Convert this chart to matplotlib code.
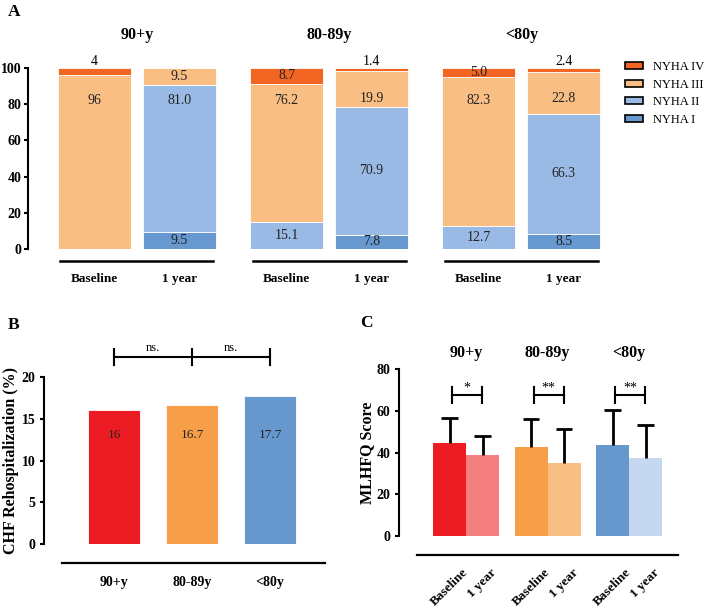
import matplotlib
matplotlib.use('Agg')
import matplotlib.pyplot as plt
from matplotlib.patches import Patch

plt.rcParams['font.family'] = 'serif'
plt.rcParams['font.serif'] = ['Liberation Serif', 'DejaVu Serif']

# ---- data ----
age_groups = ['90+y', '80-89y', '<80y']
timepoints = ['Baseline', '1 year']

# Panel A: NYHA class distribution (%), columns NYHA I, II, III, IV
nyha_classes = ['NYHA I', 'NYHA II', 'NYHA III', 'NYHA IV']
nyha_colors = ['#6798CF', '#99BAE4', '#F8BE83', '#F26522']
nyha_90 = [[0, 0, 96, 4], [9.5, 81.0, 9.5, 0]]
nyha_80_89 = [[0, 15.1, 76.2, 8.7], [7.8, 70.9, 19.9, 1.4]]
nyha_u80 = [[0, 12.7, 82.3, 5.0], [8.5, 66.3, 22.8, 2.4]]

# Panel B: CHF rehospitalization (%)
rehosp = [16, 16.7, 17.7]
rehosp_colors = ['#ED1C24', '#F69F48', '#6698CE']

# Panel C: MLHFQ score, mean and SD
mlhfq_base = [44.7, 42.8, 43.6]
mlhfq_base_sd = [11.8, 13.1, 16.8]
mlhfq_1y = [38.8, 34.8, 37.4]
mlhfq_1y_sd = [9.1, 16.3, 15.9]
mlhfq_stars = ['*', '**', '**']
base_colors = ['#ED1C24', '#F69F48', '#6698CE']
year_colors = ['#F47F7E', '#F8BE83', '#C6D8EF']


def fmt(v):
    return str(v) if isinstance(v, int) else f'{v:.1f}'


def bold_ticks(ax, axis, size):
    labels = ax.get_xticklabels() if axis == 'x' else ax.get_yticklabels()
    for lab in labels:
        lab.set_fontweight('bold')
        lab.set_fontsize(size)


W, H = 709, 612
fig = plt.figure(figsize=(W / 100, H / 100), dpi=100)

# ---------------- Panel A ----------------
axA = fig.add_axes([28 / W, 363 / H, 575 / W, 181 / H])
nyha_all = [nyha_90, nyha_80_89, nyha_u80]
gstep = 2.26
xpos = []
for i, grp in enumerate(nyha_all):
    for j in range(2):
        x = i * gstep + j
        xpos.append(x)
        bottom = 0
        for k in range(4):
            v = grp[j][k]
            if v == 0:
                continue
            axA.bar(x, v, 0.86, bottom=bottom, color=nyha_colors[k],
                    edgecolor='white', linewidth=0.6)
            center = bottom + v / 2
            if v <= 4:
                axA.text(x, 100, fmt(v), ha='center', va='bottom', fontsize=10)
            else:
                if v >= 75:
                    ty = 82
                elif v >= 15:
                    ty = min(center, 83)
                else:
                    ty = center
                axA.text(x, ty, fmt(v), ha='center', va='center', fontsize=10,
                         color='#222222')
            bottom += v
    gx = i * gstep
    axA.plot([gx - 0.4, gx + 1.4], [-6.6, -6.6], color='black', lw=1.8,
             clip_on=False)
    axA.text(gx + 0.5, 118, age_groups[i], ha='center', va='center',
             fontsize=11.5, fontweight='bold')

axA.set_xlim(-0.78, 5.98)
axA.set_ylim(0, 100)
for s in ['top', 'right', 'bottom']:
    axA.spines[s].set_visible(False)
axA.spines['left'].set_linewidth(1.5)
axA.set_yticks(range(0, 101, 20))
axA.set_xticks(xpos)
axA.set_xticklabels(timepoints * 3)
axA.tick_params(axis='x', length=0, pad=17)
axA.tick_params(axis='y', width=1.5, length=3, pad=1.5)
bold_ticks(axA, 'x', 9.5)
bold_ticks(axA, 'y', 10)

handles = [Patch(facecolor=nyha_colors[k], edgecolor='black', linewidth=1.2,
                 label=nyha_classes[k]) for k in range(3, -1, -1)]
fig.legend(handles=handles, loc='upper left', bbox_to_anchor=(625 / W, 1 - 61 / H),
           frameon=False, fontsize=9, handlelength=1.45, handleheight=0.5,
           handletextpad=0.8, labelspacing=0.45, borderpad=0, borderaxespad=0)

# ---------------- Panel B ----------------
axB = fig.add_axes([44 / W, 68 / H, 280.6 / W, 167 / H])
for s in ['top', 'right']:
    axB.spines[s].set_visible(False)
axB.spines['bottom'].set_position(('outward', 14))
axB.spines['bottom'].set_bounds(-0.667, 2.7)
axB.spines['bottom'].set_linewidth(1.6)
axB.spines['left'].set_linewidth(1.5)
bx = list(range(len(rehosp)))
axB.bar(bx, rehosp, 0.667, color=rehosp_colors, edgecolor='white', linewidth=0.6)
for x, v in zip(bx, rehosp):
    axB.text(x, 13, fmt(v), ha='center', va='center', fontsize=9.5,
             color='#222222')
axB.set_xlim(-0.897, 2.7)
axB.set_ylim(0, 20)
axB.set_yticks(range(0, 21, 5))
axB.set_xticks(bx)
axB.set_xticklabels(age_groups)
axB.tick_params(axis='x', length=0, pad=9)
axB.tick_params(axis='y', width=1.5, length=3, pad=3)
bold_ticks(axB, 'x', 10)
bold_ticks(axB, 'y', 10)
axB.set_ylabel('CHF Rehospitalization (%)', fontsize=11.5, fontweight='bold')
axB.yaxis.set_label_coords(-0.09, 0.5)
# ns brackets
axB.plot([0, 2], [22.4, 22.4], color='black', lw=1.5, clip_on=False)
for x in bx:
    axB.plot([x, x], [21.4, 23.3], color='black', lw=1.5, clip_on=False)
for x in [0.5, 1.5]:
    axB.text(x, 22.7, 'ns.', ha='center', va='bottom', fontsize=9)

# ---------------- Panel C ----------------
axC = fig.add_axes([399 / W, 76 / H, 279 / W, 167 / H])
for s in ['top', 'right']:
    axC.spines[s].set_visible(False)
axC.spines['bottom'].set_position(('outward', 14))
axC.spines['bottom'].set_bounds(-0.601, 2.6)
axC.spines['bottom'].set_linewidth(1.6)
axC.spines['left'].set_linewidth(1.5)
w = 0.405
gx = list(range(len(mlhfq_base)))
xb = [g - w / 2 for g in gx]
xy = [g + w / 2 for g in gx]
axC.bar(xb, mlhfq_base, w, color=base_colors)
axC.bar(xy, mlhfq_1y, w, color=year_colors)
# upward-only error bars with top cap
cap = 0.1
for xs, m, sd in [(xb, mlhfq_base, mlhfq_base_sd), (xy, mlhfq_1y, mlhfq_1y_sd)]:
    tops = [a + b for a, b in zip(m, sd)]
    axC.vlines(xs, m, tops, color='black', lw=2)
    axC.hlines(tops, [x - cap for x in xs], [x + cap for x in xs],
               color='black', lw=2)
for g, st, name in zip(gx, mlhfq_stars, age_groups):
    x0, x1 = g - 0.17, g + 0.2
    axC.plot([x0, x1], [67.5, 67.5], color='black', lw=1.5)
    axC.plot([x0, x0], [63.7, 71.4], color='black', lw=1.5)
    axC.plot([x1, x1], [63.7, 71.4], color='black', lw=1.5)
    axC.text((x0 + x1) / 2, 67.8, st, ha='center', va='bottom', fontsize=10)
    axC.text(g, 87.7, name, ha='center', va='center', fontsize=11.5,
             fontweight='bold', clip_on=False)
axC.set_xlim(-0.822, 2.6)
axC.set_ylim(0, 80)
axC.set_yticks(range(0, 81, 20))
axC.set_xticks(xb + xy)
axC.set_xticklabels(['Baseline'] * 3 + ['1 year'] * 3, rotation=45, ha='center')
axC.tick_params(axis='x', length=0, pad=8)
axC.tick_params(axis='y', width=1.5, length=3, pad=3)
bold_ticks(axC, 'x', 9.5)
bold_ticks(axC, 'y', 10)
axC.set_ylabel('MLHFQ Score', fontsize=11.5, fontweight='bold')
axC.yaxis.set_label_coords(-0.085, 0.5)

# panel letters
for letter, (px, py) in zip('ABC', [(14, 12), (14, 325), (366, 323)]):
    fig.text(px / W, 1 - py / H, letter, fontsize=12.5, fontweight='bold',
             ha='center', va='center')

fig.savefig('out.png', dpi=100)
